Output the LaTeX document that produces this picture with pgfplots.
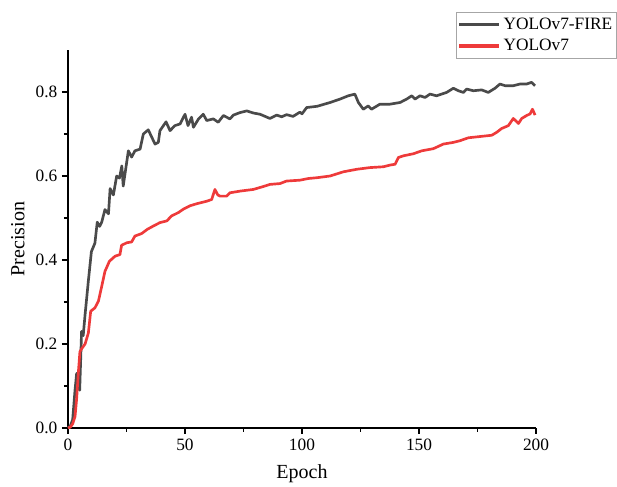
\documentclass[border=0pt]{standalone}
\usepackage{fontspec}
\setmainfont{Liberation Serif}
\usepackage{pgfplots}
\pgfplotsset{compat=1.18}
\definecolor{firegray}{RGB}{74,74,74}
\definecolor{v7red}{RGB}{238,58,58}

\begin{document}
\begin{tikzpicture}
\begin{axis}[
  scale only axis, width=351pt, height=283.5pt,
  xmin=0, xmax=200, ymin=0, ymax=0.9,
  axis x line*=bottom, axis y line*=left,
  axis line style={line width=0.9pt, -},
  xtick={0,50,100,150,200}, ytick={0,0.2,0.4,0.6,0.8},
  minor x tick num=1, minor y tick num=1,
  tick align=outside,
  major tick length=4.5pt, minor tick length=3pt,
  every tick/.style={black, line width=0.9pt},
  /pgf/number format/assume math mode=true,
  yticklabel style={/pgf/number format/fixed, /pgf/number format/fixed zerofill, /pgf/number format/precision=1},
  tick label style={font=\fontsize{13}{15}\selectfont},
  xlabel={Epoch}, ylabel={Precision},
  label style={font=\fontsize{15}{17}\selectfont},
  xlabel style={at={(axis description cs:0.5,-0.12)}, anchor=center},
  ylabel style={at={(axis description cs:-0.107,0.5)}, anchor=center},
  legend style={at={(rel axis cs:0.829,1.10)}, anchor=north west,
    draw=gray!70, line width=0.5pt, font=\fontsize{13}{15}\selectfont,
    inner xsep=1pt, inner ysep=2pt, row sep=2pt},
  legend cell align=left,
  legend image code/.code={\draw[#1, line width=2.4pt] (0pt,0pt) -- (30pt,0pt);},
  clip=false,
]
\addplot[firegray, line width=2pt, line join=round] coordinates {
(0,0) (1,0.005) (2,0.02) (3,0.09) (3.7,0.13) (4.3,0.10) (5,0.09) (5.8,0.23) (6.5,0.22) (7.3,0.27)
(8.7,0.35) (10,0.42) (11.5,0.44) (12.5,0.49) (13.5,0.48) (14.4,0.49) (15.8,0.52) (17.3,0.51) (18,0.57)
(19.4,0.555) (20.8,0.60) (22,0.595) (23,0.624) (23.6,0.576) (25.8,0.66) (27.2,0.645) (28.6,0.66)
(30.8,0.664) (32.2,0.70) (34.3,0.71) (36,0.69) (37.2,0.676) (38.6,0.68) (39.3,0.708) (41.9,0.729)
(43.6,0.708) (45.7,0.72) (47.9,0.724) (50,0.747) (51.3,0.72) (52.8,0.74) (53.6,0.716) (55.8,0.736)
(57.8,0.747) (59.3,0.732) (62.1,0.736) (64.2,0.728) (66.4,0.744) (69.2,0.736) (70.7,0.745) (73.5,0.751)
(76.4,0.755) (79.2,0.75) (82.1,0.747) (86.3,0.737) (89.2,0.745) (91.3,0.741) (93.4,0.746) (96.2,0.742)
(99.1,0.752) (100,0.748) (102,0.763) (106.5,0.766) (112,0.775) (116.2,0.783) (119.8,0.791) (122.6,0.795)
(124.1,0.775) (126.2,0.759) (128.3,0.767) (129.7,0.759) (133.3,0.771) (137.6,0.771) (141.9,0.775)
(144.7,0.783) (146.9,0.791) (148.3,0.783) (150.4,0.791) (152.6,0.787) (154.7,0.795) (157.5,0.791)
(161.8,0.799) (164.7,0.809) (166.8,0.803) (169,0.799) (170.4,0.807) (173.2,0.803) (176.8,0.805)
(179.6,0.799) (182.5,0.809) (184.6,0.819) (186.8,0.815) (190.3,0.815) (193.2,0.819) (196,0.819)
(198.1,0.823) (199.6,0.815)
};
\addlegendentry{YOLOv7-FIRE}
\addplot[v7red, line width=2pt, line join=round] coordinates {
(0,0) (1,0.002) (2,0.01) (3,0.027) (3.7,0.07) (4.4,0.13) (5.1,0.182) (6,0.19) (7.3,0.2) (8.7,0.226)
(9.7,0.278) (11.5,0.286) (13,0.302) (14.4,0.337) (15.8,0.373) (17.7,0.397) (20.1,0.409) (22.2,0.413)
(22.9,0.435) (25.1,0.441) (27.2,0.443) (28.6,0.457) (31.5,0.463) (33.9,0.473) (36.5,0.481) (39.3,0.489)
(42.2,0.493) (44.3,0.505) (47.2,0.513) (49.3,0.521) (52.1,0.529) (55,0.534) (59.3,0.540) (61.4,0.544)
(62.8,0.568) (64,0.555) (65,0.552) (67.8,0.552) (69.2,0.560) (73.5,0.564) (79.2,0.568) (83.5,0.575)
(86.3,0.58) (90.6,0.582) (93.4,0.588) (99.1,0.590) (102.7,0.594) (106.5,0.596) (112,0.600) (117.7,0.61)
(123.4,0.616) (129,0.62) (134.8,0.622) (137.6,0.626) (139.8,0.628) (141.2,0.644) (143.3,0.648)
(147.6,0.653) (151.2,0.66) (156.1,0.665) (160.4,0.676) (164.7,0.68) (167.5,0.684) (171.1,0.691)
(176.1,0.694) (181.1,0.697) (183.2,0.704) (185.3,0.713) (188.2,0.72) (190.3,0.737) (192.5,0.725)
(193.9,0.737) (196,0.744) (197.5,0.748) (198.5,0.759) (199.6,0.745)
};
\addlegendentry{YOLOv7}
\coordinate (bbsw) at (rel axis cs:-0.1453,-0.1429);
\coordinate (bbne) at (rel axis cs:1.1731,1.1323);
\end{axis}
\path (bbsw) rectangle (bbne);
\end{tikzpicture}
\end{document}
